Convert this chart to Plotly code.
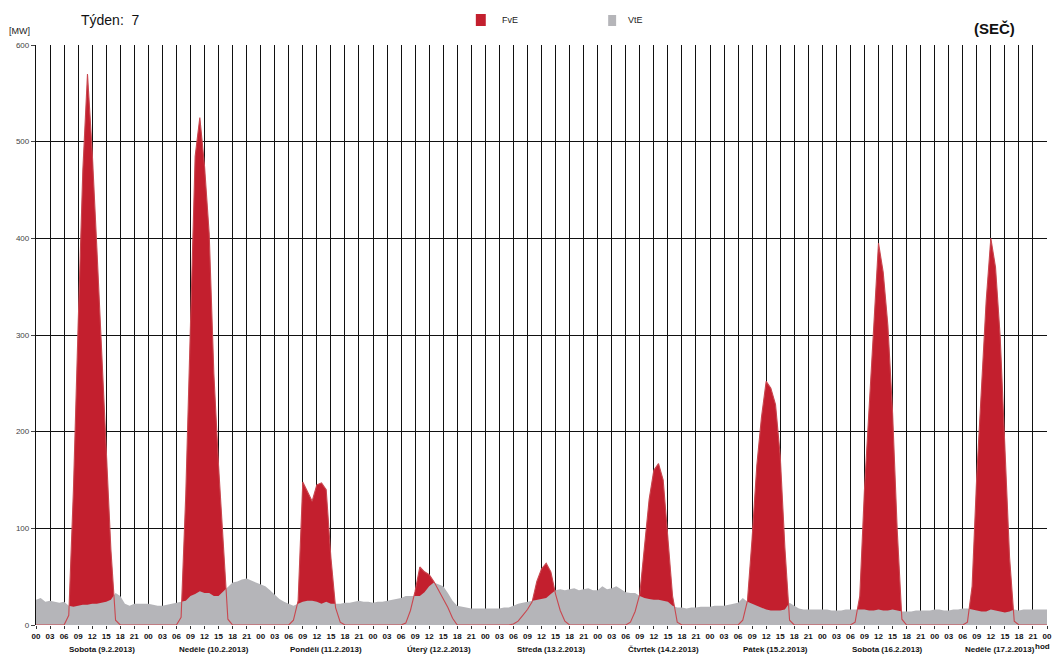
import numpy as np
import plotly.graph_objects as go

# ---------------- data (hourly values, MW) ----------------
day_labels = ["Sobota (9.2.2013)", "Neděle (10.2.2013)", "Pondělí (11.2.2013)",
              "Úterý (12.2.2013)", "Středa (13.2.2013)", "Čtvrtek (14.2.2013)",
              "Pátek (15.2.2013)", "Sobota (16.2.2013)", "Neděle (17.2.2013)"]
hour_labels = ["00", "03", "06", "09", "12", "15", "18", "21"]

# FvE (photovoltaic) per day, hours 00..23
fve_d1 = [0, 0, 0, 0, 0, 0, 0, 10, 140, 310, 470, 570, 490, 390, 290, 190, 78, 5, 0, 0, 0, 0, 0, 0]
fve_d2 = [0, 0, 0, 0, 0, 0, 0, 8, 135, 310, 485, 525, 475, 405, 260, 165, 80, 6, 0, 0, 0, 0, 0, 0]
fve_d3 = [0, 0, 0, 0, 0, 0, 0, 5, 25, 148, 138, 128, 145, 147, 140, 70, 18, 3, 0, 0, 0, 0, 0, 0]
fve_d4 = [0, 0, 0, 0, 0, 0, 0, 2, 15, 35, 60, 55, 52, 45, 36, 28, 18, 7, 0, 0, 0, 0, 0, 0]
fve_d5 = [0, 0, 0, 0, 0, 0, 1, 4, 10, 16, 24, 45, 58, 64, 55, 32, 15, 4, 0, 0, 0, 0, 0, 0]
fve_d6 = [0, 0, 0, 0, 0, 0, 0, 3, 14, 32, 80, 130, 160, 167, 150, 92, 30, 3, 0, 0, 0, 0, 0, 0]
fve_d7 = [0, 0, 0, 0, 0, 0, 0, 5, 25, 90, 165, 215, 252, 245, 228, 175, 80, 5, 0, 0, 0, 0, 0, 0]
fve_d8 = [0, 0, 0, 0, 0, 0, 0, 3, 30, 140, 225, 305, 395, 365, 310, 220, 98, 6, 0, 0, 0, 0, 0, 0]
fve_d9 = [0, 0, 0, 0, 0, 0, 0, 3, 40, 155, 250, 335, 400, 370, 298, 178, 70, 4, 0, 0, 0, 0, 0, 0]
fve_end = [0]

# VtE (wind) per day, hours 00..23
vte_d1 = [26, 28, 24, 25, 24, 23, 24, 20, 19, 20, 21, 21, 22, 22, 23, 24, 26, 33, 30, 22, 20, 22, 22, 22]
vte_d2 = [22, 21, 20, 20, 21, 22, 23, 24, 25, 30, 32, 35, 33, 33, 30, 30, 35, 40, 44, 45, 47, 48, 46, 44]
vte_d3 = [42, 40, 36, 31, 27, 24, 22, 20, 22, 24, 25, 25, 24, 22, 24, 22, 22, 22, 23, 23, 24, 25, 24, 24]
vte_d4 = [23, 24, 24, 25, 26, 27, 28, 30, 30, 30, 30, 34, 40, 44, 42, 40, 33, 25, 20, 19, 18, 17, 17, 17]
vte_d5 = [17, 17, 17, 17, 18, 18, 20, 22, 23, 24, 25, 26, 27, 28, 32, 36, 37, 36, 37, 38, 36, 37, 38, 36]
vte_d6 = [36, 40, 37, 38, 40, 37, 34, 33, 33, 30, 28, 27, 26, 26, 25, 24, 20, 18, 18, 17, 18, 18, 19, 19]
vte_d7 = [19, 20, 20, 20, 21, 22, 23, 28, 24, 22, 20, 18, 16, 15, 15, 15, 16, 23, 20, 17, 16, 16, 16, 16]
vte_d8 = [16, 16, 15, 15, 15, 16, 16, 16, 16, 16, 15, 15, 16, 15, 15, 16, 15, 14, 14, 14, 15, 15, 15, 15]
vte_d9 = [16, 16, 15, 15, 16, 16, 17, 17, 16, 15, 14, 14, 16, 15, 14, 13, 14, 16, 15, 16, 16, 16, 16, 16]
vte_end = [16]

fve = np.array(fve_d1 + fve_d2 + fve_d3 + fve_d4 + fve_d5 + fve_d6 + fve_d7 + fve_d8 + fve_d9 + fve_end)
vte = np.array(vte_d1 + vte_d2 + vte_d3 + vte_d4 + vte_d5 + vte_d6 + vte_d7 + vte_d8 + vte_d9 + vte_end)
hours = np.arange(len(fve))

RED = "#c31f2e"
GRAY = "#b5b5b9"
THIN = "#c9474f"
FONT = "Liberation Sans, Arial, sans-serif"

# ---------------- pixel helpers for layout ----------------
W, H = 1058, 655
L, R, T, B = 36, 1052, 45, 625


def px(xp):
    return (xp - L) / (R - L)


def py(yp):
    return (B - yp) / (B - T)


fig = go.Figure()
fig.add_trace(go.Scatter(x=hours, y=fve, mode="lines", fill="tozeroy",
                         fillcolor=RED, line=dict(color=RED, width=0),
                         name="FvE", showlegend=False, hoverinfo="skip"))
fig.add_trace(go.Scatter(x=hours, y=vte, mode="lines", fill="tozeroy",
                         fillcolor=GRAY, line=dict(color=GRAY, width=0),
                         name="VtE", showlegend=False, hoverinfo="skip"))
fig.add_trace(go.Scatter(x=hours, y=fve, mode="lines",
                         line=dict(color=THIN, width=1.1),
                         showlegend=False, hoverinfo="skip"))

n_days = len(day_labels)
tickvals = list(range(0, 24 * n_days + 1, 3))
ticktext = [hour_labels[(v // 3) % 8] for v in tickvals]

fig.update_xaxes(range=[0, 24 * n_days], tickmode="array", tickvals=tickvals,
                 ticktext=ticktext, showgrid=True, gridcolor="#111111", gridwidth=1.3,
                 ticks="outside", ticklen=3, tickcolor="#333333", tickwidth=1,
                 tickfont=dict(family=FONT, size=8, color="#111111", weight="bold"),
                 showline=False, zeroline=False, fixedrange=True)
fig.update_yaxes(range=[0, 600], tickmode="linear", tick0=0, dtick=100,
                 showgrid=True, gridcolor="#111111", gridwidth=1.3,
                 ticks="outside", ticklen=4, tickcolor="#444444",
                 tickfont=dict(family=FONT, size=8, color="#444444"),
                 showline=True, linecolor="#111111", linewidth=1.3,
                 zeroline=False, fixedrange=True)

annotations = []
for i, lab in enumerate(day_labels):
    annotations.append(dict(x=i * 24 + 14, xref="x", y=py(649), yref="paper",
                            text=lab, showarrow=False, xanchor="center", yanchor="middle",
                            font=dict(family=FONT, size=8, color="#111111", weight="bold")))
annotations += [
    dict(x=px(1057), y=py(646), xref="paper", yref="paper", text="hod", showarrow=False,
         xanchor="right", yanchor="middle",
         font=dict(family=FONT, size=8, color="#111111", weight="bold")),
    dict(x=px(7), y=py(31), xref="paper", yref="paper", text="[MW]", showarrow=False,
         xanchor="left", yanchor="middle",
         font=dict(family=FONT, size=9, color="#222222")),
    dict(x=px(79), y=py(20), xref="paper", yref="paper", text="Týden:\u00a0\u00a07",
         showarrow=False, xanchor="left", yanchor="middle",
         font=dict(family=FONT, size=14, color="#111111")),
    dict(x=px(502), y=py(20), xref="paper", yref="paper", text="FvE", showarrow=False,
         xanchor="left", yanchor="middle",
         font=dict(family=FONT, size=9, color="#222222")),
    dict(x=px(629), y=py(20), xref="paper", yref="paper", text="VtE", showarrow=False,
         xanchor="left", yanchor="middle",
         font=dict(family=FONT, size=9, color="#222222")),
    dict(x=px(977), y=py(28), xref="paper", yref="paper", text="(SEČ)", showarrow=False,
         xanchor="left", yanchor="middle",
         font=dict(family=FONT, size=15, color="#111111", weight="bold")),
]

shapes = [
    dict(type="rect", xref="paper", yref="paper", x0=px(478), x1=px(488), y0=py(26), y1=py(14),
         fillcolor=RED, line=dict(width=0)),
    dict(type="rect", xref="paper", yref="paper", x0=px(611), x1=px(619), y0=py(26), y1=py(15),
         fillcolor=GRAY, line=dict(width=0)),
]

fig.update_layout(width=W, height=H, margin=dict(l=L, r=W - R, t=T, b=H - B),
                  paper_bgcolor="white", plot_bgcolor="white",
                  annotations=annotations, shapes=shapes, showlegend=False)

fig.write_html("out.html", config={"displayModeBar": False},
               post_script="document.body.style.margin='0';")
